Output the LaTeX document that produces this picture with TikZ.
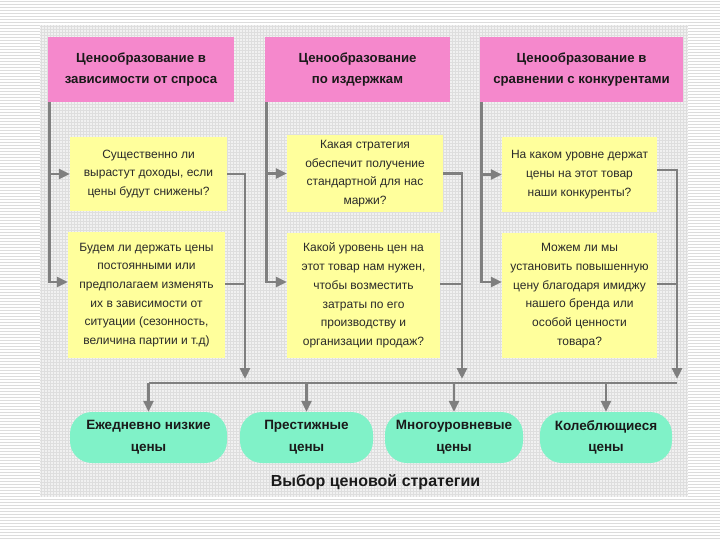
\documentclass[tikz,border=0pt]{standalone}
\usepackage{fontspec}
\setmainfont{Liberation Sans}
\usetikzlibrary{arrows.meta,calc}
\definecolor{pinkbox}{HTML}{F588CC}
\definecolor{yellowbox}{HTML}{FFFF9C}
\definecolor{mintbox}{HTML}{80F2C8}
\definecolor{linegray}{HTML}{7F7F7F}
\definecolor{txt}{HTML}{1A1A1A}
\definecolor{qtxt}{HTML}{2A2A2A}
\definecolor{stripe}{HTML}{DCDCDC}
\definecolor{panelfill}{HTML}{F1F1F1}
\definecolor{panelgrid}{HTML}{DEDEDE}
\begin{document}
\begin{tikzpicture}[x=1pt,y=-1pt,
  header/.style={fill=pinkbox,draw=none,inner sep=0pt,align=center,text=txt,
     font=\fontsize{13.2}{21.5}\selectfont\bfseries},
  question/.style={fill=yellowbox,draw=none,inner sep=0pt,align=center,text=qtxt,
     font=\fontsize{12}{18.7}\selectfont},
  choice/.style={fill=mintbox,draw=none,inner sep=0pt,align=center,text=txt,
     rounded corners=22pt,minimum height=51pt,
     font=\fontsize{13.5}{21.7}\selectfont\bfseries},
  conn/.style={draw=linegray,line width=2.8pt},
  arr/.style={conn,-{Triangle[length=11pt,width=10pt]}}
]
\useasboundingbox (0,0) rectangle (720,540);
% background
\fill[white] (0,0) rectangle (720,540);
\foreach \yy in {1.5,4.5,...,540} \draw[stripe,line width=0.9pt] (0,\yy) -- (720,\yy);
\fill[panelfill] (40,25) rectangle (688,497);
\foreach \xx in {41.5,44.5,...,688} \draw[panelgrid,line width=0.5pt] (\xx,25) -- (\xx,497);
\foreach \yy in {26.5,29.5,...,497} \draw[panelgrid,line width=0.5pt] (40,\yy) -- (688,\yy);

% headers
\node[header,minimum width=186pt,minimum height=65pt] (h1) at (141,69.5)
  {Ценообразование в\\зависимости от спроса};
\node[header,minimum width=185pt,minimum height=65pt] (h2) at (357.5,69.5)
  {Ценообразование\\по издержкам};
\node[header,minimum width=203pt,minimum height=65pt] (h3) at (581.5,69.5)
  {Ценообразование в\\сравнении с конкурентами};

% questions
\node[question,minimum width=157pt,minimum height=74pt] (q1a) at (148.5,174)
  {Существенно ли\\вырастут доходы, если\\цены будут снижены?};
\node[question,minimum width=157pt,minimum height=126pt] (q1b) at (146.5,295)
  {Будем ли держать цены\\постоянными или\\предполагаем изменять\\их в зависимости от\\ситуации (сезонность,\\величина партии и т.д)};
\node[question,minimum width=156pt,minimum height=77pt] (q2a) at (365,173.5)
  {Какая стратегия\\обеспечит получение\\стандартной для нас\\маржи?};
\node[question,minimum width=153pt,minimum height=125pt] (q2b) at (363.5,295.5)
  {Какой уровень цен на\\этот товар нам нужен,\\чтобы возместить\\затраты по его\\производству и\\организации продаж?};
\node[question,minimum width=155pt,minimum height=75pt] (q3a) at (579.5,174.5)
  {На каком уровне держат\\цены на этот товар\\наши конкуренты?};
\node[question,minimum width=155pt,minimum height=125pt] (q3b) at (579.5,295.5)
  {Можем ли мы\\установить повышенную\\цену благодаря имиджу\\нашего бренда или\\особой ценности\\товара?};

% choices
\node[choice,minimum width=157pt] (o1) at (148.5,437.5) {Ежедневно низкие\\цены};
\node[choice,minimum width=133pt] (o2) at (306.5,437.5) {Престижные\\цены};
\node[choice,minimum width=138pt] (o3) at (454,437.5) {Многоуровневые\\цены};
\node[choice,minimum width=132pt] (o4) at (606,437.5) {Колеблющиеся\\цены};

\node[text=txt,font=\fontsize{16}{18}\selectfont\bfseries] (title) at (375.5,482)
  {Выбор ценовой стратегии};

% left feeders
\coordinate (l1) at ($(h1.south west)+(2,0)$);
\coordinate (l2) at ($(h2.south west)+(2,0)$);
\coordinate (l3) at ($(h3.south west)+(2,0)$);
\coordinate (q1bi) at ($(q1b.west)+(0,-13)$);
\coordinate (q2bi) at ($(q2b.west)+(0,-13.5)$);
\coordinate (q3bi) at ($(q3b.west)+(0,-13.5)$);
\draw[arr] (l1) |- (q1a.west);
\draw[arr] (l1) |- (q1bi);
\draw[arr] (l2) |- (q2a.west);
\draw[arr] (l2) |- (q2bi);
\draw[arr] (l3) |- (q3a.west);
\draw[arr] (l3) |- (q3bi);

% right collectors
\coordinate (r1) at (245,383);
\coordinate (r2) at (462,383);
\coordinate (r3) at (677,383);
\coordinate (q1bo) at ($(q1b.east)+(0,-11)$);
\coordinate (q2bo) at ($(q2b.east)+(0,-11.5)$);
\coordinate (q3bo) at ($(q3b.east)+(0,-11.5)$);
\coordinate (q3ao) at ($(q3a.east)+(0,-4.5)$);
\draw[arr,shorten >=4pt] (q1a.east) -| (r1);
\draw[conn] (q1bo) -- (q1bo -| r1);
\draw[arr,shorten >=4pt] (q2a.east) -| (r2);
\draw[conn] (q2bo) -- (q2bo -| r2);
\draw[arr,shorten >=4pt] (q3ao) -| (r3);
\draw[conn] (q3bo) -- (q3bo -| r3);

% bus and outputs
\coordinate (b1) at (o1.north |- r1);
\draw[conn] (b1) -- (r3);
\draw[arr] (b1) -- (o1.north);
\draw[arr] (o2.north |- r1) -- (o2.north);
\draw[arr] (o3.north |- r1) -- (o3.north);
\draw[arr] (o4.north |- r1) -- (o4.north);
\end{tikzpicture}
\end{document}
